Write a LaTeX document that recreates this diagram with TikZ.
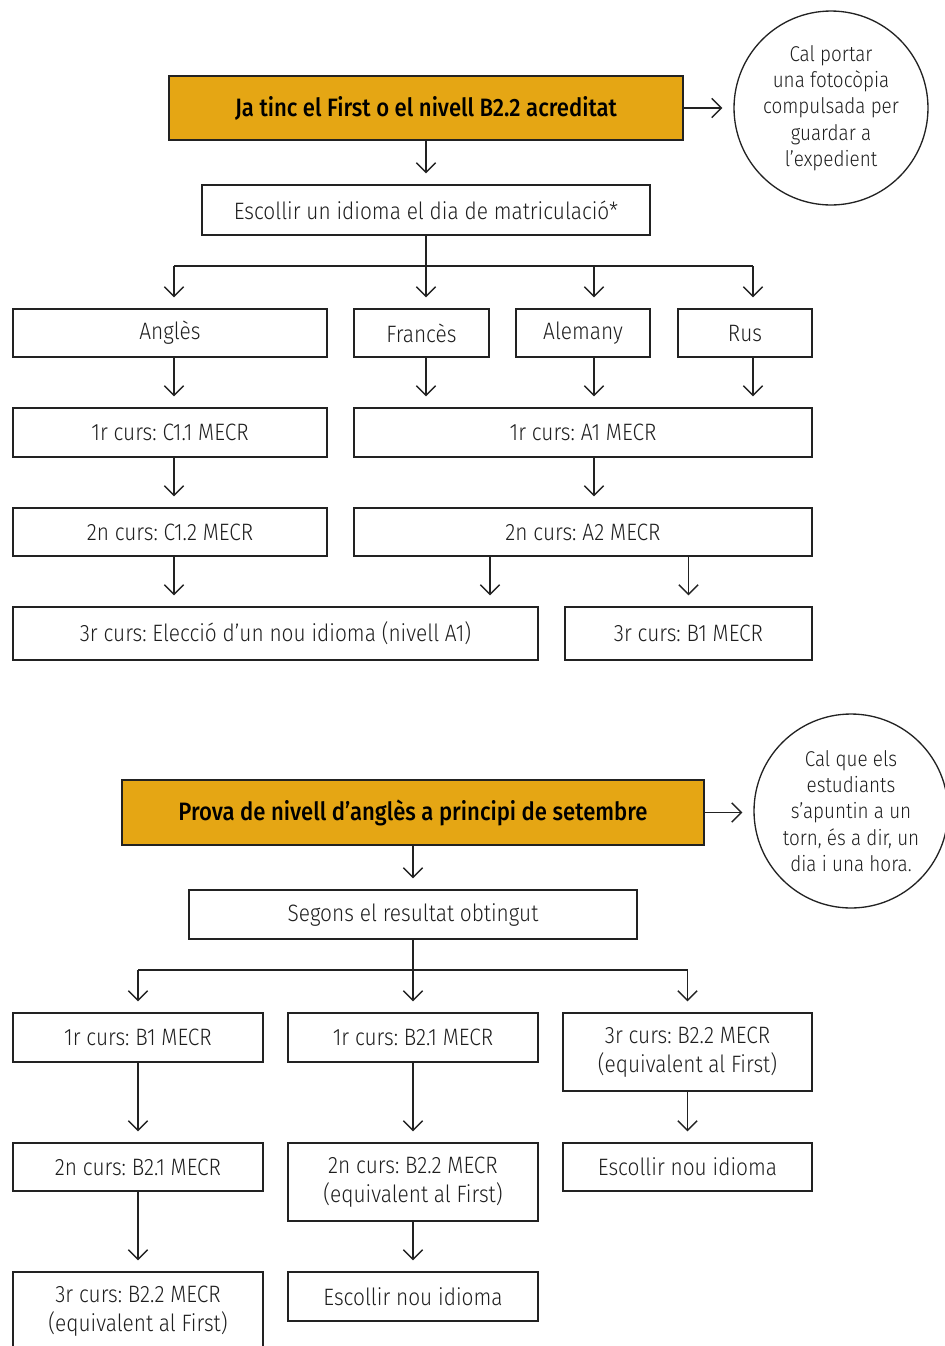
\documentclass[tikz,border=0pt]{standalone}
\usepackage{fontspec}
\setmainfont{Fira Sans Light}[BoldFont={Fira Sans Medium}, FakeStretch=0.88]
\usetikzlibrary{arrows.meta}
\definecolor{gold}{HTML}{E5A614}
\definecolor{ink}{HTML}{222222}
\definecolor{txt}{HTML}{1E1E1E}
\frenchspacing
\tikzset{
 box/.style={draw=ink, line width=0.75pt, rectangle, inner sep=2pt, align=center, text=txt, font=\fontsize{13.5}{16.4}\selectfont},
 hbox/.style={box, fill=gold, text=black, font=\bfseries\fontsize{14.3}{16}\selectfont},
 note/.style={draw=ink, circle, line width=0.75pt, minimum size=3.88cm, inner sep=0pt, align=center, text=txt, font=\fontsize{12.2}{15}\selectfont},
 arr/.style={draw=ink, line width=0.75pt, -{Straight Barb[length=5.5pt,width=11pt]}, shorten >=6.3pt},
 ln/.style={draw=ink, line width=0.75pt},
}
\newcommand\pbox[7]{\node[#6, minimum width={(#4-#2)*0.02cm}, minimum height={(#5-#3)*0.02cm}] (#1) at ({(#2+#4)/2},{(#3+#5)/2}) {#7};}
\begin{document}
\begin{tikzpicture}[x=0.02cm,y=-0.02cm]
\useasboundingbox (0,0) rectangle (944,1346);
% ---------- part 1
\pbox{top}{169}{76}{683}{140}{hbox}{Ja tinc el First o el nivell B2.2 acreditat}
\node[note] (note1) at (831,108) {Cal portar\\una fotocòpia\\compulsada per\\guardar a\\l’expedient};
\pbox{esc}{202}{185}{650}{235}{box}{Escollir un idioma el dia de matriculació*}
\pbox{ang}{13}{309}{327}{357}{box}{Anglès}
\pbox{fra}{354}{309}{489}{357}{box}{Francès}
\pbox{ale}{516}{309}{650}{357}{box}{Alemany}
\pbox{rus}{678}{309}{812}{357}{box}{Rus}
\pbox{c11}{13}{408}{327}{457}{box}{1r curs: C1.1 MECR}
\pbox{a1}{354}{408}{812}{457}{box}{1r curs: A1 MECR}
\pbox{c12}{13}{508}{327}{556}{box}{2n curs: C1.2 MECR}
\pbox{a2}{354}{508}{812}{556}{box}{2n curs: A2 MECR}
\pbox{elec}{13}{607}{538}{660}{box}{3r curs: Elecció d’un nou idioma (nivell A1)}
\pbox{b1}{565}{607}{812}{660}{box}{3r curs: B1 MECR}

\coordinate (bar1) at (426,266);
\coordinate (barL) at (174,266);
\coordinate (barA) at (594,266);
\coordinate (barR) at (753,266);
\coordinate (x490) at (490,0);

\draw[arr] (top.east) -- (top.east -| note1.west);
\draw[arr] (top.south) -- (esc.north);
\draw[ln] (esc.south) -- (bar1);
\draw[ln] (barL) -- (barR);
\draw[arr] (barL) -- (barL |- ang.north);
\draw[arr] (bar1) -- (bar1 |- fra.north);
\draw[arr] (barA) -- (barA |- ale.north);
\draw[arr] (barR) -- (barR |- rus.north);
\draw[arr] (ang.south -| barL) -- (c11.north -| barL);
\draw[arr] (fra.south -| bar1) -- (a1.north -| bar1);
\draw[arr] (ale.south -| barA) -- (a1.north -| barA);
\draw[arr] (rus.south -| barR) -- (a1.north -| barR);
\draw[arr] (c11.south -| barL) -- (c12.north -| barL);
\draw[arr] (a1.south -| barA) -- (a2.north -| barA);
\draw[arr] (c12.south -| barL) -- (elec.north -| barL);
\draw[arr] (a2.south -| x490) -- (elec.north -| x490);
\draw[arr] (a2.south -| b1.north) -- (b1.north);

% ---------- part 2
\pbox{top2}{122}{780}{704}{845}{hbox}{Prova de nivell d’anglès a principi de setembre}
\node[note] (note2) at (851,811) {Cal que els\\estudiants\\s’apuntin a un\\torn, és a dir, un\\dia i una hora.};
\pbox{seg}{189}{890}{637}{939}{box}{Segons el resultat obtingut}
\pbox{r1a}{13}{1013}{263}{1062}{box}{1r curs: B1 MECR}
\pbox{r1b}{288}{1013}{538}{1062}{box}{1r curs: B2.1 MECR}
\pbox{r1c}{563}{1013}{812}{1091}{box}{3r curs: B2.2 MECR\\(equivalent al First)}
\pbox{r2a}{13}{1143}{263}{1191}{box}{2n curs: B2.1 MECR}
\pbox{r2b}{288}{1143}{538}{1221}{box}{2n curs: B2.2 MECR\\(equivalent al First)}
\pbox{r2c}{563}{1143}{812}{1191}{box}{Escollir nou idioma}
\pbox{r3a}{13}{1272}{263}{1350}{box}{3r curs: B2.2 MECR\\(equivalent al First)}
\pbox{r3b}{288}{1272}{538}{1321}{box}{Escollir nou idioma}

\coordinate (bar2) at (413,970);
\coordinate (bar2L) at (138,970);
\coordinate (bar2R) at (687.5,970);

\draw[arr] (top2.east) -- (top2.east -| note2.west);
\draw[arr] (top2.south) -- (seg.north);
\draw[ln] (seg.south) -- (bar2);
\draw[ln] (bar2L) -- (bar2R);
\draw[arr] (bar2L) -- (r1a.north);
\draw[arr] (bar2) -- (r1b.north);
\draw[arr] (bar2R) -- (r1c.north);
\draw[arr] (r1a.south) -- (r2a.north);
\draw[arr] (r1b.south) -- (r2b.north);
\draw[arr] (r1c.south) -- (r2c.north);
\draw[arr] (r2a.south) -- (r3a.north);
\draw[arr] (r2b.south) -- (r3b.north);
\end{tikzpicture}
\end{document}
